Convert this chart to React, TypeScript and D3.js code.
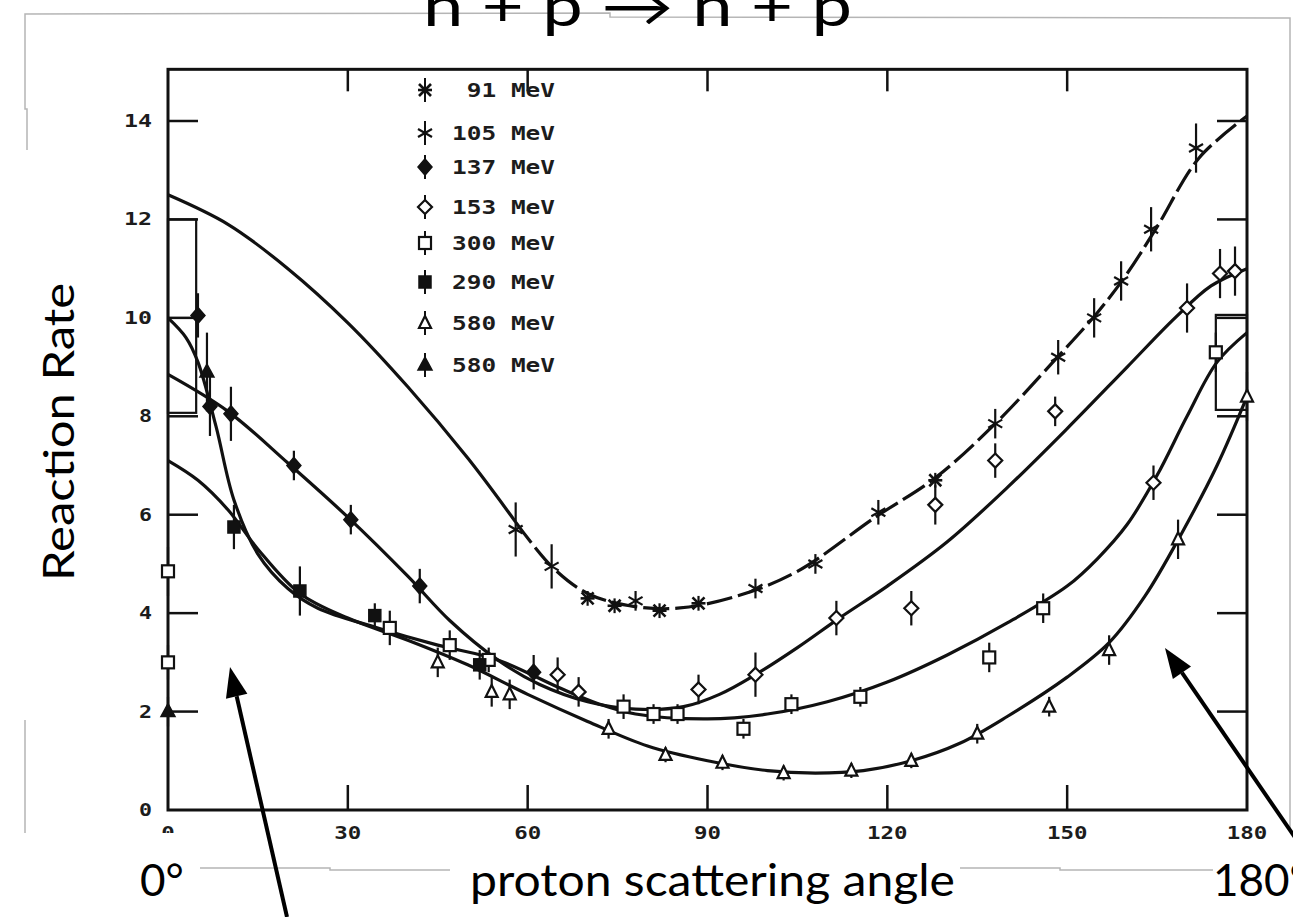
import React from 'react';
import * as d3 from 'd3';

const W = 1293, H = 917;

// axis ticks
const xTicks = [0, 30, 60, 90, 120, 150, 180];
const yTicks = [0, 2, 4, 6, 8, 10, 12, 14];

// legend
const legendLabels = ['91 MeV', '105 MeV', '137 MeV', '153 MeV', '300 MeV', '290 MeV', '580 MeV', '580 MeV'];
const legendMarkers = ['x91', 'ast', 'dfill', 'dopen', 'sopen', 'sfill', 'topen', 'tfill'];

// fitted curves [angle, rate]
const curve105Left = [[0,12.5],[10,11.9],[20,11.0],[30,9.9],[40,8.6],[50,7.15],[58,5.85]];
const curve105Right = [[58,5.85],[64,4.95],[70,4.4],[77,4.15],[85,4.1],[95,4.35],[105,4.85],[118,5.95],[128,6.75],[138,7.85],[148,9.15],[155,10.1],[160,10.9],[165,11.85],[172,13.25],[180,14.1]];
const curve137 = [[0,8.85],[10,8.1],[20,7.05],[30,5.95],[40,4.75],[47,3.85],[55,3.05],[62,2.55],[70,2.2],[78,2.05],[86,2.1],[92,2.35],[98,2.75],[105,3.3],[112,3.9],[120,4.55],[130,5.45],[140,6.55],[150,7.75],[160,9.0],[168,10.0],[174,10.65],[180,11.0]];
const curve300 = [[0,10.0],[3,9.6],[5,9.1],[8,7.8],[11,6.3],[15,5.2],[20,4.5],[25,4.1],[35,3.7],[45,3.35],[55,3.05],[65,2.5],[72,2.15],[78,1.95],[90,1.85],[100,1.95],[110,2.2],[120,2.6],[130,3.15],[140,3.8],[150,4.55],[155,5.1],[160,5.8],[165,6.8],[170,8.0],[175,9.1],[180,9.7]];
const curve580 = [[0,7.1],[5,6.7],[10,6.1],[15,5.3],[22,4.4],[30,3.9],[40,3.45],[50,2.95],[60,2.35],[70,1.8],[80,1.3],[90,1.0],[100,0.8],[108,0.75],[116,0.8],[124,1.0],[132,1.35],[140,1.9],[150,2.7],[157,3.4],[163,4.35],[169,5.6],[175,7.0],[180,8.4]];

// data points [angle, rate, error]
const pts91 = [[70,4.3,0.15],[74.5,4.15,0.15],[82,4.05,0.15],[88.5,4.2,0.15],[128,6.7,0.15]];
const pts105 = [[58,5.7,0.55],[64,4.95,0.45],[78,4.25,0.2],[98,4.5,0.2],[108,5.0,0.2],[118.5,6.05,0.25],[138,7.85,0.3],[148.5,9.2,0.35],[154.5,10.0,0.4],[159,10.75,0.4],[164,11.8,0.45],[171.5,13.45,0.5]];
const pts137 = [[5,10.05,0.45],[7,8.2,0.6],[10.5,8.05,0.55],[21,7.0,0.3],[30.5,5.9,0.3],[42,4.55,0.35],[61,2.8,0.35]];
const pts153 = [[65,2.75,0.35],[68.5,2.4,0.3],[88.5,2.45,0.3],[98,2.75,0.45],[111.5,3.9,0.35],[124,4.1,0.35],[128,6.2,0.4],[138,7.1,0.35],[148,8.1,0.3],[164.4,6.65,0.35],[170,10.2,0.5],[175.5,10.9,0.5],[178,10.95,0.5]];
const pts300 = [[0,3.0,0.35],[0,4.85,0.5],[37,3.7,0.35],[47,3.35,0.3],[53.5,3.05,0.25],[76,2.1,0.25],[81,1.95,0.2],[85,1.95,0.2],[96,1.65,0.2],[104,2.15,0.2],[115.5,2.3,0.2],[137,3.1,0.3],[146,4.1,0.3],[174.8,9.3,0.4]];
const pts290 = [[11,5.75,0.45],[22,4.45,0.5],[34.5,3.95,0.25],[52,2.95,0.3]];
const pts580a = [[45,3.0,0.3],[54,2.4,0.3],[57,2.35,0.3],[73.5,1.65,0.2],[83,1.12,0.15],[92.5,0.96,0.15],[102.7,0.75,0.15],[114,0.8,0.15],[124,1.0,0.15],[135,1.55,0.2],[147,2.1,0.2],[157,3.25,0.3],[168.5,5.5,0.4],[180,8.4,0.5]];
const pts580b = [[6.5,8.9,0.8],[0,2.0,0.3]];

// error boxes [a0, a1, r0, r1]
const errorBoxes = [[0,4.7,8.07,12.0],[174.8,180,8.13,10.06]];

const series = [
  { type: 'x91', pts: pts91 },
  { type: 'ast', pts: pts105 },
  { type: 'dfill', pts: pts137 },
  { type: 'dopen', pts: pts153 },
  { type: 'sopen', pts: pts300 },
  { type: 'sfill', pts: pts290 },
  { type: 'topen', pts: pts580a },
  { type: 'tfill', pts: pts580b },
];

const x = d3.scaleLinear().domain([0, 180]).range([168, 1247]);
const y = d3.scaleLinear().domain([0, 14]).range([810, 121]);
const yTop = y(15.05);

const lineGen = d3.line<number[]>().x(d => x(d[0])).y(d => y(d[1])).curve(d3.curveCatmullRom.alpha(0.5));

const INK = '#111';

function Marker({ type, cx, cy }: { type: string; cx: number; cy: number }) {
  const s = 6;
  switch (type) {
    case 'x91':
      return (
        <g stroke={INK} strokeWidth={2.6} fill="none">
          <line x1={cx - s} y1={cy - s} x2={cx + s} y2={cy + s} />
          <line x1={cx - s} y1={cy + s} x2={cx + s} y2={cy - s} />
          <line x1={cx - s - 1} y1={cy} x2={cx + s + 1} y2={cy} />
        </g>
      );
    case 'ast':
      return (
        <g stroke={INK} strokeWidth={2.2} fill="none">
          <line x1={cx - 7} y1={cy - 4} x2={cx + 7} y2={cy + 4} />
          <line x1={cx - 7} y1={cy + 4} x2={cx + 7} y2={cy - 4} />
        </g>
      );
    case 'dfill':
      return <path d={`M${cx},${cy - 8}L${cx + 7},${cy}L${cx},${cy + 8}L${cx - 7},${cy}Z`} fill={INK} stroke={INK} strokeWidth={1.5} />;
    case 'dopen':
      return <path d={`M${cx},${cy - 7}L${cx + 7},${cy}L${cx},${cy + 7}L${cx - 7},${cy}Z`} fill="#fff" stroke={INK} strokeWidth={2.2} />;
    case 'sopen':
      return <rect x={cx - 6} y={cy - 6} width={12} height={12} fill="#fff" stroke={INK} strokeWidth={2.2} />;
    case 'sfill':
      return <rect x={cx - 6} y={cy - 6} width={12} height={12} fill={INK} stroke={INK} strokeWidth={1.5} />;
    case 'topen':
      return <path d={`M${cx},${cy - 7}L${cx + 6},${cy + 5}L${cx - 6},${cy + 5}Z`} fill="#fff" stroke={INK} strokeWidth={2.2} />;
    case 'tfill':
      return <path d={`M${cx},${cy - 8}L${cx + 7},${cy + 5}L${cx - 7},${cy + 5}Z`} fill={INK} stroke={INK} strokeWidth={1.5} />;
    default:
      return null;
  }
}

function Arrow({ x1, y1, x2, y2 }: { x1: number; y1: number; x2: number; y2: number }) {
  // x1,y1 tail ; x2,y2 tip
  const ang = Math.atan2(y2 - y1, x2 - x1);
  const L = 30, Wd = 11;
  const bx = x2 - L * Math.cos(ang), by = y2 - L * Math.sin(ang);
  const px = -Math.sin(ang) * Wd, py = Math.cos(ang) * Wd;
  return (
    <g>
      <line x1={x1} y1={y1} x2={bx} y2={by} stroke="#000" strokeWidth={4} />
      <path d={`M${x2},${y2}L${bx + px},${by + py}L${bx - px},${by - py}Z`} fill="#000" />
    </g>
  );
}

const tickFont = { fontFamily: 'DejaVu Sans Mono', fontWeight: 'bold' as const, fontSize: 18, fill: '#1c1c1c' };
const slideFont = { fontFamily: 'Lato', fill: '#000' };

export default function App() {
  const xL = x(0), xR = x(180), yB = y(0);
  return (
    <svg width={W} height={H} style={{ position: 'absolute', left: 0, top: 0, background: '#fff', display: 'block' }}>
      <rect x={0} y={0} width={W} height={H} fill="#fff" />
      {/* scan edge lines */}
      <path d="M27,150 L27,109 L25,109 L25,14 L610,13 L610,17 L1290,18 L1290,830" fill="none" stroke="#b5b5b5" strokeWidth={1.5} />
      <path d="M25,720 L25,848" fill="none" stroke="#b5b5b5" strokeWidth={1.5} />
      <path d="M195,868 L330,868 L330,870 L450,870" fill="none" stroke="#b5b5b5" strokeWidth={1.5} />
      <path d="M960,868 L1060,868 L1060,870 L1213,870" fill="none" stroke="#b5b5b5" strokeWidth={1.5} />

      {/* frame */}
      <rect x={xL} y={yTop} width={xR - xL} height={yB - yTop} fill="none" stroke={INK} strokeWidth={3} />

      {/* y ticks */}
      {yTicks.map(v => (
        <g key={'yt' + v}>
          {v > 0 && <line x1={xL} x2={xL + 30} y1={y(v)} y2={y(v)} stroke={INK} strokeWidth={2.5} />}
          {v > 0 && <line x1={xR} x2={xR - 30} y1={y(v)} y2={y(v)} stroke={INK} strokeWidth={2.5} />}
          <text x={152} y={y(v) + 6} textAnchor="end" textLength={v >= 10 ? 28 : 13} lengthAdjust="spacingAndGlyphs" {...tickFont}>{String(v)}</text>
        </g>
      ))}
      {/* x ticks */}
      {xTicks.map(v => (
        <g key={'xt' + v}>
          {v > 0 && v < 180 && <line x1={x(v)} x2={x(v)} y1={yB} y2={yB - 25} stroke={INK} strokeWidth={2.5} />}
          {v > 0 && v < 180 && <line x1={x(v)} x2={x(v)} y1={yTop} y2={yTop + 22} stroke={INK} strokeWidth={2.5} />}
          <text x={x(v)} y={yB + 29} textAnchor="middle" textLength={String(v).length * 13.5} lengthAdjust="spacingAndGlyphs" {...tickFont}>{String(v)}</text>
        </g>
      ))}

      {/* error boxes */}
      {errorBoxes.map((b, i) => (
        <rect key={'eb' + i} x={x(b[0])} y={y(b[3])} width={x(b[1]) - x(b[0])} height={y(b[2]) - y(b[3])} fill="none" stroke={INK} strokeWidth={2.2} />
      ))}

      {/* curves */}
      <path d={lineGen(curve105Left) || ''} fill="none" stroke={INK} strokeWidth={3.2} />
      <path d={lineGen(curve105Right) || ''} fill="none" stroke={INK} strokeWidth={3.2} strokeDasharray="26 6" />
      <path d={lineGen(curve137) || ''} fill="none" stroke={INK} strokeWidth={3.2} />
      <path d={lineGen(curve300) || ''} fill="none" stroke={INK} strokeWidth={3.2} />
      <path d={lineGen(curve580) || ''} fill="none" stroke={INK} strokeWidth={3.2} />

      {/* data points */}
      {series.map(s => s.pts.map((p, i) => (
        <g key={s.type + i}>
          <line x1={x(p[0])} x2={x(p[0])} y1={y(p[1] - p[2])} y2={y(p[1] + p[2])} stroke={INK} strokeWidth={2.2} />
          <Marker type={s.type} cx={x(p[0])} cy={y(p[1])} />
        </g>
      )))}

      {/* legend */}
      {legendLabels.map((lab, i) => {
        const ly = [90, 133, 167, 207, 243, 282, 323, 365][i];
        return (
          <g key={'lg' + i}>
            <line x1={425} x2={425} y1={ly - 12} y2={ly + 12} stroke={INK} strokeWidth={2} />
            <Marker type={legendMarkers[i]} cx={425} cy={ly} />
            <text x={555} y={ly + 7} textAnchor="end" textLength={lab.length * 14.7} lengthAdjust="spacingAndGlyphs" {...tickFont} fontSize={19}>{lab}</text>
          </g>
        );
      })}

      {/* white label boxes */}
      <rect x={13} y={150} width={84} height={570} fill="#fff" />
      <rect x={13} y={833} width={187} height={84} fill="#fff" />

      {/* slide texts */}
      <text x={423} y={26} textLength={429} lengthAdjust="spacingAndGlyphs" fontSize={56} {...slideFont}>n + p → n + p</text>
      <text transform="translate(74,432) rotate(-90)" textAnchor="middle" textLength={298} lengthAdjust="spacingAndGlyphs" fontSize={42} {...slideFont}>Reaction Rate</text>
      <text x={140} y={896} fontSize={44} {...slideFont}>0°</text>
      <text x={470} y={896} textLength={485} lengthAdjust="spacingAndGlyphs" fontSize={44} {...slideFont}>proton scattering angle</text>
      <text x={1213} y={896} fontSize={44} {...slideFont}>180°</text>

      {/* arrows */}
      <Arrow x1={287} y1={917} x2={230} y2={667} />
      <Arrow x1={1305} y1={852} x2={1165} y2={648} />
    </svg>
  );
}
